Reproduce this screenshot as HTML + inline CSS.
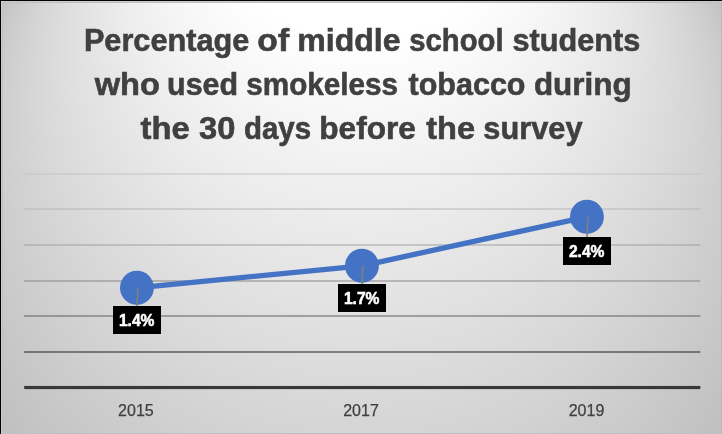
<!DOCTYPE html>
<html><head><meta charset="utf-8"><title>Chart</title>
<style>
html,body{margin:0;padding:0;background:#c4c4c4;}
body{width:722px;height:434px;overflow:hidden;font-family:"Liberation Sans",sans-serif;}
svg{display:block;font-family:"Liberation Sans",sans-serif;}
</style></head><body>
<svg width="722" height="434" viewBox="0 0 722 434">
<defs>
<radialGradient id="bg" gradientUnits="userSpaceOnUse" cx="361.5" cy="-347" r="0.01" fx="361.5" fy="217.5" fr="421.2">
<stop offset="0" stop-color="#bfbfbf"/>
<stop offset="0.61" stop-color="#ffffff"/>
<stop offset="1" stop-color="#ffffff"/>
</radialGradient>
</defs>
<rect x="0" y="0" width="722" height="434" fill="url(#bg)"/>
<rect x="1" y="1" width="721" height="1" fill="#cccccc"/>
<rect x="1" y="1" width="1" height="433" fill="#cccccc"/>
<rect x="2" y="2" width="720" height="1" fill="#bfbfbf"/>
<rect x="2" y="2" width="1" height="432" fill="#bfbfbf"/>
<rect x="2" y="433" width="720" height="1" fill="#bfbfbf"/>
<rect x="721" y="2" width="1" height="432" fill="#bcbcbc"/>
<rect x="0" y="0" width="722" height="1" fill="#000"/>
<rect x="0" y="0" width="1" height="434" fill="#000"/>
<g id="grid">
<rect x="24.2" y="173.00" width="676.1" height="2" fill="#c4c4c4" opacity="0.5"/>
<rect x="24.2" y="208.00" width="676.1" height="2" fill="#b6b6b6" opacity="0.5"/>
<rect x="24.2" y="244.00" width="676.1" height="2" fill="#a0a0a0" opacity="0.5"/>
<rect x="24.2" y="280.00" width="676.1" height="2" fill="#868686" opacity="0.5"/>
<rect x="24.2" y="315.00" width="676.1" height="2" fill="#5e5e5e" opacity="0.5"/>
<rect x="24.2" y="351.00" width="676.1" height="2" fill="#1e1e1e" opacity="0.5"/>
<rect x="24.2" y="385.95" width="676.1" height="3.15" fill="#383838"/>
</g>
<g id="title" style="filter:grayscale(1)" font-size="32" font-weight="bold" fill="#404040" stroke="#404040" stroke-width="0.6">
<text id="w0_0" x="83.90" y="50.8" textLength="165.40" lengthAdjust="spacingAndGlyphs">Percentage</text>
<text id="w0_1" x="257.39" y="50.8" textLength="31.75" lengthAdjust="spacingAndGlyphs">of</text>
<text id="w0_2" x="297.29" y="50.8" textLength="103.22" lengthAdjust="spacingAndGlyphs">middle</text>
<text id="w0_3" x="409.30" y="50.8" textLength="94.20" lengthAdjust="spacingAndGlyphs">school</text>
<text id="w0_4" x="512.50" y="50.8" textLength="127.79" lengthAdjust="spacingAndGlyphs">students</text>
<text id="w1_0" x="94.71" y="94.8" textLength="65.16" lengthAdjust="spacingAndGlyphs">who</text>
<text id="w1_1" x="167.07" y="94.8" textLength="71.06" lengthAdjust="spacingAndGlyphs">used</text>
<text id="w1_2" x="246.31" y="94.8" textLength="151.79" lengthAdjust="spacingAndGlyphs">smokeless</text>
<text id="w1_3" x="408.50" y="94.8" textLength="116.99" lengthAdjust="spacingAndGlyphs">tobacco</text>
<text id="w1_4" x="533.89" y="94.8" textLength="97.82" lengthAdjust="spacingAndGlyphs">during</text>
<text id="w2_0" x="140.51" y="138.8" textLength="49.18" lengthAdjust="spacingAndGlyphs">the</text>
<text id="w2_1" x="199.11" y="138.8" textLength="36.36" lengthAdjust="spacingAndGlyphs">30</text>
<text id="w2_2" x="243.91" y="138.8" textLength="67.18" lengthAdjust="spacingAndGlyphs">days</text>
<text id="w2_3" x="319.30" y="138.8" textLength="96.61" lengthAdjust="spacingAndGlyphs">before</text>
<text id="w2_4" x="426.31" y="138.8" textLength="48.74" lengthAdjust="spacingAndGlyphs">the</text>
<text id="w2_5" x="483.32" y="138.8" textLength="99.18" lengthAdjust="spacingAndGlyphs">survey</text>
</g>
<polyline points="136.93,287.80 361.93,265.80 586.93,216.80" fill="none" stroke="#4472c4" stroke-width="5.3" stroke-linecap="round" stroke-linejoin="round"/>
<circle cx="136.93" cy="287.80" r="16.97" fill="#4472c4"/>
<circle cx="361.93" cy="265.80" r="16.97" fill="#4472c4"/>
<circle cx="586.93" cy="216.80" r="16.97" fill="#4472c4"/>
<g id="labs">
<line x1="137.93" y1="288.00" x2="137.00" y2="306" stroke="#7f7f7f" stroke-width="1.6"/>
<rect x="113" y="306" width="48" height="28" fill="#000"/>
<text id="d0" style="filter:grayscale(1)" x="136.70" y="326.20" text-anchor="middle" font-size="16.7" font-weight="bold" fill="#fff" stroke="#fff" stroke-width="0.55" textLength="35.6" lengthAdjust="spacingAndGlyphs">1.4%</text>
<line x1="362.93" y1="266.00" x2="362.00" y2="284" stroke="#7f7f7f" stroke-width="1.6"/>
<rect x="338" y="284" width="48" height="28" fill="#000"/>
<text id="d1" style="filter:grayscale(1)" x="361.70" y="304.20" text-anchor="middle" font-size="16.7" font-weight="bold" fill="#fff" stroke="#fff" stroke-width="0.55" textLength="35.6" lengthAdjust="spacingAndGlyphs">1.7%</text>
<line x1="587.93" y1="217.00" x2="587.00" y2="237" stroke="#7f7f7f" stroke-width="1.6"/>
<rect x="563" y="237" width="48" height="28" fill="#000"/>
<text id="d2" style="filter:grayscale(1)" x="586.70" y="257.20" text-anchor="middle" font-size="16.7" font-weight="bold" fill="#fff" stroke="#fff" stroke-width="0.55" textLength="35.6" lengthAdjust="spacingAndGlyphs">2.4%</text>
</g>
<g id="xl" style="filter:grayscale(1)">
<text id="x0" x="135.90" y="415.8" text-anchor="middle" font-size="16" fill="#404040" stroke="#404040" stroke-width="0.25">2015</text>
<text id="x1" x="361.00" y="415.8" text-anchor="middle" font-size="16" fill="#404040" stroke="#404040" stroke-width="0.25">2017</text>
<text id="x2" x="586.50" y="415.8" text-anchor="middle" font-size="16" fill="#404040" stroke="#404040" stroke-width="0.25">2019</text>
</g>
</svg>
</body></html>
